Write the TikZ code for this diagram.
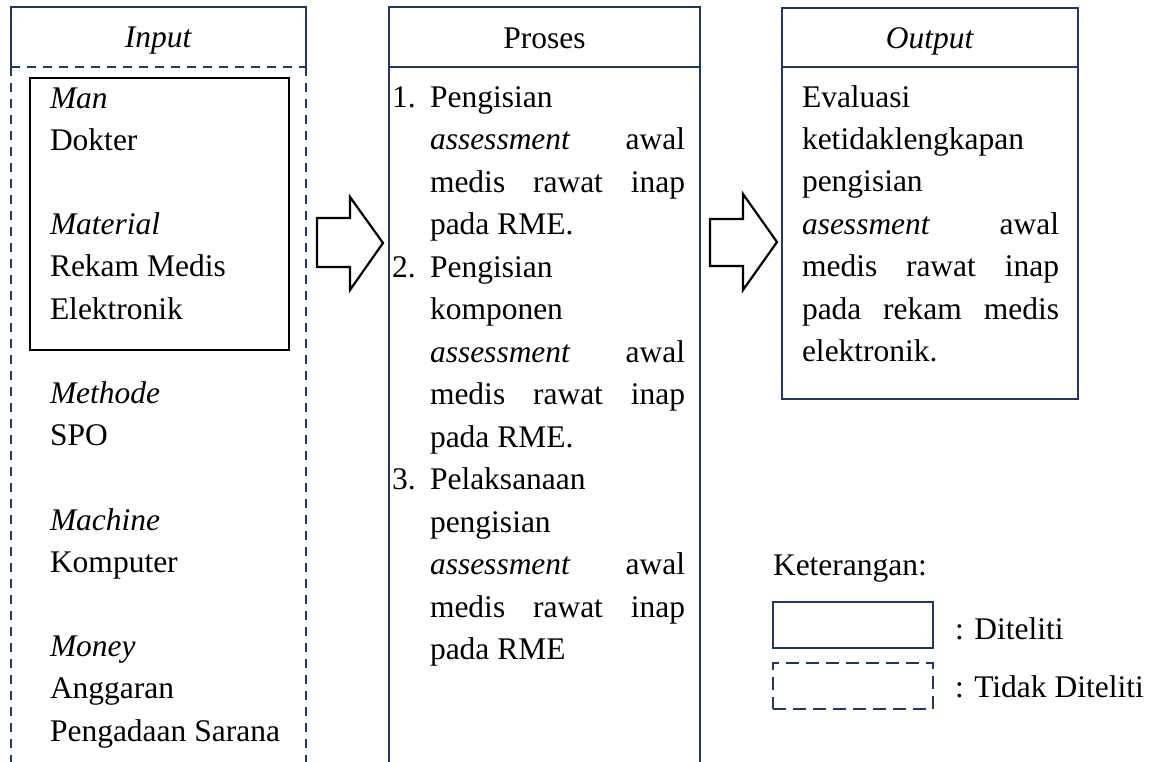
\documentclass[tikz,border=0pt]{standalone}
\usepackage{fontspec}
\setmainfont{Liberation Serif}
\definecolor{navy}{HTML}{1F3864}
\newcommand\justline[1]{\makebox[255pt][s]{#1}}
\newcommand\justlineo[1]{\makebox[257pt][s]{#1}}
\tikzset{
  navyline/.style={draw=navy, line width=2.8pt},
  dashline/.style={draw=navy, line width=2.8pt, dash pattern=on 9pt off 7pt},
  blackbox/.style={draw=black, line width=2.8pt},
  blockarrow/.style={draw=black, line width=2.2pt, line join=miter},
  txt/.style={anchor=base west, inner sep=0pt, outer sep=0pt, font=\fontsize{31.5}{40}\selectfont},
  ctxt/.style={anchor=base, inner sep=0pt, outer sep=0pt, font=\fontsize{31.5}{40}\selectfont},
  box/.style={inner sep=0pt, outer sep=0pt, anchor=north west}
}
\begin{document}
\begin{tikzpicture}[x=1pt,y=-1pt]
\useasboundingbox (0,0) rectangle (1162,761);
\clip (0,0) rectangle (1162,761);
\fill[white] (0,0) rectangle (1162,761);

% Input box
\coordinate (inTL) at (11,7);
\coordinate (inTR) at (306,7);
\coordinate (inML) at (11,67);
\coordinate (inMR) at (306,67);
\coordinate (inBL) at (11,775);
\coordinate (inBR) at (306,775);
\draw[navyline] (inML) -- (inTL) -- (inTR) -- (inMR);
\draw[dashline] (inML) -- (inMR);
\draw[dashline] (inML) -- (inBL);
\draw[dashline] (inMR) -- (inBR);
\node[ctxt] (inhead) at (158.5,47) {\textit{Input}};

% inner solid box
\node[box, blackbox, minimum width=259pt, minimum height=272pt] (inner) at (30,78) {};

% Input texts
\foreach \k/\t in {0/{\textit{Man}},1/Dokter,3/{\textit{Material}},4/Rekam Medis,5/Elektronik,7/{\textit{Methode}},8/SPO,10/{\textit{Machine}},11/Komputer,13/{\textit{Money}},14/Anggaran,15/Pengadaan Sarana}
  \node[txt] (in\k) at (50,108+\k*42.2) {\t};

% Proses box
\node[box, navyline, minimum width=311pt, minimum height=770pt] (proses) at (389,7) {};
\coordinate (prML) at (389,67);
\coordinate (prMR) at (700,67);
\draw[navyline] (prML) -- (prMR);
\node[ctxt] (prhead) at (544.5,48) {Proses};
\foreach \k/\t in {0/Pengisian,1/{\justline{\textit{assessment} awal}},2/{\justline{medis rawat inap}},3/pada RME.,4/Pengisian,5/komponen,6/{\justline{\textit{assessment} awal}},7/{\justline{medis rawat inap}},8/pada RME.,9/Pelaksanaan,10/pengisian,11/{\justline{\textit{assessment} awal}},12/{\justline{medis rawat inap}},13/pada RME}
  \node[txt] (pr\k) at (430,107+\k*42.5) {\t};
\node[txt] (n1) at (392,107) {1.};
\node[txt] (n2) at (392,107+4*42.5) {2.};
\node[txt] (n3) at (392,107+9*42.5) {3.};

% Output box
\node[box, navyline, minimum width=296pt, minimum height=391pt] (output) at (782,8) {};
\coordinate (ouML) at (782,67);
\coordinate (ouMR) at (1078,67);
\draw[navyline] (ouML) -- (ouMR);
\node[ctxt] (ouhead) at (930,48) {\textit{Output}};
\foreach \k/\t in {0/Evaluasi,1/ketidaklengkapan,2/pengisian,3/{\justlineo{\textit{asessment} awal}},4/{\justlineo{medis rawat inap}},5/{\justlineo{pada rekam medis}},6/elektronik.}
  \node[txt] (ou\k) at (802,107+\k*42.4) {\t};

% block arrows
\draw[blockarrow] (317,218) -- (350,218) -- (350,197) -- (383,243) -- (350,290) -- (350,267) -- (317,267) -- cycle;
\draw[blockarrow] (710,219) -- (743,219) -- (743,194) -- (777,242) -- (743,290) -- (743,266) -- (710,266) -- cycle;

% Legend
\node[txt] (ket) at (773,575) {Keterangan:};
\node[box, navyline, minimum width=160pt, minimum height=46pt] (lsolid) at (773,602) {};
\node[box, dashline, dash pattern=on 13pt off 7pt, minimum width=160pt, minimum height=46pt] (ldash) at (773,663) {};
\node[txt] (ldt) at (955,639) {: Diteliti};
\node[txt] (ltdt) at (955,697) {: Tidak Diteliti};
\end{tikzpicture}
\end{document}
